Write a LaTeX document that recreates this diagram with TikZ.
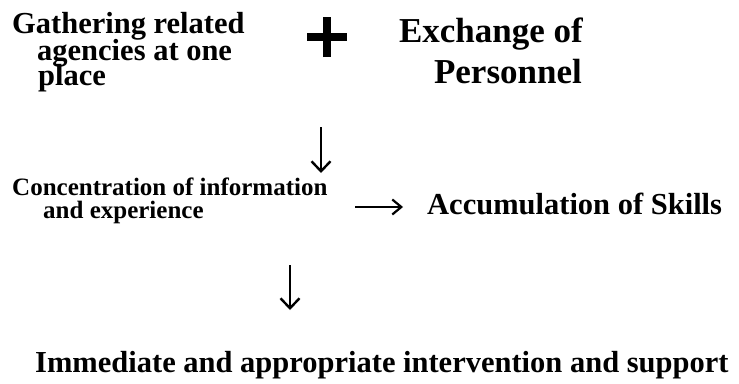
\documentclass[tikz,border=0pt]{standalone}
\usepackage{fontspec}
\setmainfont{Liberation Serif}
\usetikzlibrary{arrows.meta}
\begin{document}
\begin{tikzpicture}[x=1pt,y=-1pt,
  lbl/.style={inner sep=0pt, anchor=base west},
  big/.style={lbl, font=\bfseries\fontsize{35}{35}\selectfont},
  mid/.style={lbl, font=\bfseries\fontsize{30.5}{30.5}\selectfont},
  small/.style={lbl, font=\bfseries\fontsize{25}{25}\selectfont},
  flow/.style={line width=1.7pt,
    -{Straight Barb[length=10pt,width=19pt,line width=2.4pt]}}]
\useasboundingbox (0,0) rectangle (739,383);
\fill[white] (0,0) rectangle (739,383);

% first cause: three lines, the last two indented
\node[mid] (gath1) at (12,33) {Gathering related};
\node[mid] (gath2) at (37,60) {agencies at one};
\node[mid] (gath3) at (38,85) {place};

% the plus sign between the two causes
\coordinate (plus) at (327,37);
\draw[line width=7.5pt] ([xshift=-20pt]plus) -- ([xshift=20pt]plus)
                        ([yshift=-20pt]plus) -- ([yshift=20pt]plus);

% second cause, right aligned
\node[big, anchor=base east] (exch1) at (583,42) {Exchange of};
\node[big, anchor=base east] (exch2) at (582,83) {Personnel};

% first step down
\coordinate (d1a) at (321,127);
\coordinate (d1b) at (321,173);
\draw[flow] (d1a) -- (d1b);

% intermediate result
\node[small] (conc1) at (12,195) {Concentration of information};
\node[small] (conc2) at (43,218) {and experience};

% side result
\coordinate (r1a) at (355,207);
\coordinate (r1b) at (403,207);
\draw[flow, -{Straight Barb[length=9pt,width=15pt,line width=2.2pt]}] (r1a) -- (r1b);
\node[mid] (skills) at (427,214) {Accumulation of Skills};

% second step down
\coordinate (d2a) at (290,265);
\coordinate (d2b) at (290,310);
\draw[flow] (d2a) -- (d2b);

% final outcome
\node[mid] (outcome) at (35,372) {Immediate and appropriate intervention and support};
\end{tikzpicture}
\end{document}
